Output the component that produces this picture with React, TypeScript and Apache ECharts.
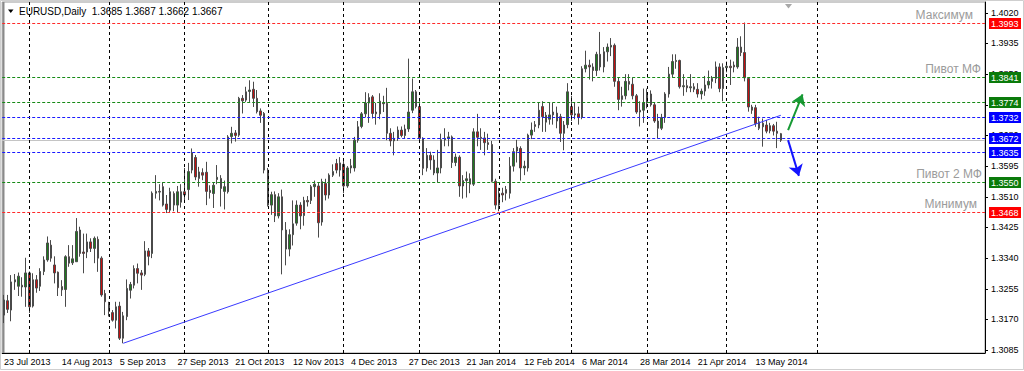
import React, { useEffect, useRef } from "react";
import * as echarts from "echarts";

// ---------- data ----------
const SYMBOL = "EURUSD";
const PERIOD = "Daily";
const START_DATE = "2013-07-23";
const HOLIDAYS = ["2013-12-25", "2014-01-01"];
const TOTAL_SLOTS = 272; // trading-day slots incl. right-hand chart shift
const LABEL_EVERY = 16;

const opens = [
  1.3182, 1.3222, 1.3196, 1.3274, 1.3262, 1.3265, 1.326, 1.3299, 1.3207, 1.328,
  1.3262, 1.3303, 1.3335, 1.3376, 1.3321, 1.3301, 1.3261, 1.3253, 1.3344, 1.3327,
  1.333, 1.3418, 1.3357, 1.3357, 1.3385, 1.3367, 1.3392, 1.334, 1.3242, 1.3215,
  1.3189, 1.3168, 1.3207, 1.3118, 1.3178, 1.3251, 1.3265, 1.3311, 1.3299, 1.3295,
  1.336, 1.3353, 1.352, 1.3525, 1.3538, 1.349, 1.3473, 1.3519, 1.3487, 1.3495,
  1.3524, 1.353, 1.3584, 1.3619, 1.3561, 1.3577, 1.3578, 1.3528, 1.3519, 1.3558,
  1.3561, 1.3525, 1.3524, 1.3677, 1.3687, 1.3681, 1.3783, 1.3778, 1.3802, 1.3808,
  1.3783, 1.3748, 1.3741, 1.3584, 1.3487, 1.3516, 1.3457, 1.351, 1.3418, 1.3365,
  1.3405, 1.3437, 1.3487, 1.3458, 1.35, 1.35, 1.3538, 1.354, 1.344, 1.3547,
  1.3515, 1.357, 1.3602, 1.3584, 1.36, 1.354, 1.359, 1.359, 1.3667, 1.3705,
  1.374, 1.377, 1.3787, 1.3745, 1.374, 1.377, 1.3769, 1.3686, 1.3665, 1.3672,
  1.3695, 1.368, 1.3698, 1.375, 1.3801, 1.376, 1.3672, 1.359, 1.3625, 1.3612,
  1.3576, 1.359, 1.3668, 1.3672, 1.3676, 1.3605, 1.362, 1.354, 1.3555, 1.356,
  1.3545, 1.369, 1.3675, 1.3673, 1.366, 1.3655, 1.3553, 1.3487, 1.352, 1.353,
  1.352, 1.3595, 1.3648, 1.3644, 1.359, 1.359, 1.3681, 1.371, 1.3709, 1.376,
  1.3717, 1.3725, 1.3737, 1.3742, 1.3732, 1.3686, 1.371, 1.376, 1.3737, 1.374,
  1.373, 1.3865, 1.3875, 1.387, 1.386, 1.3905, 1.387, 1.3912, 1.3925, 1.393,
  1.383, 1.378, 1.379, 1.383, 1.3822, 1.379, 1.3745, 1.375, 1.377, 1.3795,
  1.3765, 1.372, 1.37, 1.373, 1.3795, 1.385, 1.3885, 1.3888, 1.3815, 1.3818,
  1.3812, 1.3815, 1.3808, 1.3795, 1.3803, 1.382, 1.383, 1.3838, 1.387, 1.381,
  1.3868, 1.3872, 1.3875, 1.387, 1.3925, 1.391, 1.3838, 1.3759, 1.3757, 1.37,
  1.3714, 1.3709, 1.3693, 1.3707, 1.3692, 1.3685,
];
const highs = [
  1.3238, 1.3238, 1.3293, 1.3296, 1.33, 1.3287, 1.3341, 1.3303, 1.3298, 1.3293,
  1.3312, 1.3345, 1.34, 1.339, 1.3345, 1.3303, 1.3279, 1.3348, 1.3376, 1.3376,
  1.3451, 1.3427, 1.3408, 1.3408, 1.3395, 1.34, 1.34, 1.3345, 1.3252, 1.3219,
  1.3196, 1.3219, 1.3219, 1.3191, 1.3281, 1.3274, 1.332, 1.3325, 1.3307, 1.3387,
  1.3368, 1.3525, 1.357, 1.3545, 1.355, 1.3515, 1.3535, 1.3525, 1.354, 1.3545,
  1.359, 1.3604, 1.3644, 1.3626, 1.3593, 1.3589, 1.3607, 1.3542, 1.355, 1.3598,
  1.357, 1.3555, 1.3681, 1.3704, 1.3695, 1.3787, 1.3792, 1.3815, 1.3833, 1.3829,
  1.3806, 1.3755, 1.3745, 1.359, 1.3524, 1.3525, 1.352, 1.353, 1.344, 1.342,
  1.35, 1.35, 1.3495, 1.351, 1.3512, 1.3543, 1.3555, 1.3548, 1.356, 1.356,
  1.3575, 1.36, 1.3615, 1.362, 1.3615, 1.3595, 1.3615, 1.3676, 1.372, 1.3745,
  1.38, 1.3797, 1.3792, 1.377, 1.3797, 1.379, 1.3812, 1.37, 1.369, 1.3705,
  1.3705, 1.371, 1.3893, 1.3838, 1.3806, 1.3775, 1.3675, 1.3645, 1.3635, 1.3625,
  1.364, 1.3685, 1.37, 1.369, 1.368, 1.363, 1.3625, 1.357, 1.358, 1.3575,
  1.37, 1.374, 1.37, 1.369, 1.3685, 1.3665, 1.356, 1.3535, 1.3535, 1.354,
  1.362, 1.3645, 1.3668, 1.365, 1.361, 1.3685, 1.3716, 1.372, 1.3772, 1.3775,
  1.3745, 1.377, 1.377, 1.376, 1.374, 1.372, 1.3825, 1.379, 1.377, 1.376,
  1.3872, 1.3915, 1.389, 1.388, 1.3912, 1.3967, 1.3925, 1.3935, 1.395, 1.3935,
  1.384, 1.3815, 1.385, 1.385, 1.384, 1.3795, 1.3775, 1.381, 1.381, 1.3805,
  1.377, 1.374, 1.374, 1.38, 1.387, 1.3905, 1.3905, 1.389, 1.385, 1.3835,
  1.385, 1.3825, 1.3825, 1.381, 1.3845, 1.386, 1.3845, 1.3885, 1.388, 1.388,
  1.3885, 1.389, 1.3885, 1.395, 1.3955, 1.3993, 1.3842, 1.3765, 1.3765, 1.3732,
  1.3727, 1.3723, 1.3715, 1.3712, 1.3718, 1.3687,
];
const lows = [
  1.316, 1.3188, 1.3165, 1.3252, 1.3235, 1.3233, 1.3205, 1.3188, 1.3203, 1.3244,
  1.3249, 1.3293, 1.333, 1.333, 1.327, 1.3235, 1.3235, 1.3205, 1.3316, 1.3321,
  1.333, 1.3344, 1.3298, 1.334, 1.3357, 1.3326, 1.3302, 1.3233, 1.3182, 1.3178,
  1.3164, 1.3145, 1.3113, 1.3104, 1.3168, 1.3228, 1.3256, 1.327, 1.3252, 1.329,
  1.332, 1.334, 1.3505, 1.35, 1.3483, 1.3465, 1.3465, 1.347, 1.3466, 1.348,
  1.35, 1.3501, 1.3575, 1.3556, 1.3538, 1.3556, 1.3487, 1.3505, 1.3479, 1.3545,
  1.3483, 1.3475, 1.3519, 1.3658, 1.3663, 1.3676, 1.3741, 1.3773, 1.3773, 1.3759,
  1.3741, 1.3715, 1.3575, 1.3483, 1.346, 1.344, 1.345, 1.3295, 1.332, 1.3345,
  1.3375, 1.343, 1.342, 1.343, 1.3483, 1.349, 1.351, 1.3397, 1.343, 1.35,
  1.3505, 1.3565, 1.3575, 1.3566, 1.352, 1.3535, 1.3575, 1.358, 1.366, 1.37,
  1.373, 1.3715, 1.3727, 1.371, 1.3725, 1.3745, 1.3667, 1.365, 1.3625, 1.3665,
  1.3675, 1.3672, 1.369, 1.3742, 1.3755, 1.3665, 1.357, 1.358, 1.3585, 1.357,
  1.355, 1.3575, 1.365, 1.365, 1.359, 1.3595, 1.351, 1.3505, 1.3508, 1.352,
  1.354, 1.365, 1.364, 1.3625, 1.364, 1.355, 1.3475, 1.347, 1.3495, 1.35,
  1.3505, 1.358, 1.3605, 1.3555, 1.357, 1.358, 1.367, 1.369, 1.37, 1.369,
  1.369, 1.371, 1.371, 1.37, 1.3662, 1.3639, 1.37, 1.372, 1.3725, 1.371,
  1.3725, 1.3855, 1.3835, 1.383, 1.3845, 1.386, 1.3855, 1.3885, 1.39, 1.3815,
  1.375, 1.376, 1.378, 1.3805, 1.378, 1.374, 1.3705, 1.3715, 1.3755, 1.376,
  1.3715, 1.3672, 1.3695, 1.3715, 1.3785, 1.384, 1.3865, 1.381, 1.379, 1.38,
  1.38, 1.38, 1.3785, 1.378, 1.379, 1.381, 1.381, 1.3825, 1.38, 1.3775,
  1.3855, 1.382, 1.3855, 1.3865, 1.39, 1.383, 1.3746, 1.374, 1.3704, 1.3695,
  1.3649, 1.3686, 1.3686, 1.368, 1.3645, 1.3662,
];
const closes = [
  1.3224, 1.3198, 1.3274, 1.328, 1.329, 1.326, 1.3299, 1.3205, 1.328, 1.3257,
  1.3303, 1.3335, 1.3382, 1.334, 1.3299, 1.3258, 1.3252, 1.3344, 1.3326, 1.3338,
  1.3414, 1.3353, 1.3353, 1.3385, 1.3367, 1.3395, 1.334, 1.3238, 1.3219, 1.3192,
  1.3168, 1.3205, 1.3118, 1.318, 1.3256, 1.3267, 1.3311, 1.3298, 1.3293, 1.336,
  1.3345, 1.352, 1.3525, 1.3523, 1.3487, 1.3475, 1.3524, 1.3487, 1.3524, 1.3524,
  1.3515, 1.358, 1.3632, 1.3565, 1.3579, 1.357, 1.3525, 1.3522, 1.3542, 1.3564,
  1.3533, 1.3538, 1.3676, 1.3686, 1.368, 1.3783, 1.3776, 1.3801, 1.3806, 1.3783,
  1.3746, 1.3736, 1.3584, 1.3487, 1.3516, 1.3457, 1.351, 1.3418, 1.3365, 1.3405,
  1.3435, 1.3487, 1.3457, 1.35, 1.3496, 1.3538, 1.3545, 1.3438, 1.3552, 1.3515,
  1.357, 1.358, 1.3584, 1.3604, 1.354, 1.359, 1.3596, 1.3667, 1.3704, 1.374,
  1.377, 1.3785, 1.3741, 1.374, 1.3775, 1.3768, 1.3686, 1.3665, 1.3672, 1.3695,
  1.368, 1.3698, 1.3745, 1.3801, 1.376, 1.3672, 1.3589, 1.3625, 1.3612, 1.3576,
  1.359, 1.3668, 1.3672, 1.3676, 1.3605, 1.362, 1.354, 1.3555, 1.356, 1.3545,
  1.369, 1.3675, 1.3672, 1.366, 1.3655, 1.3553, 1.3487, 1.352, 1.3515, 1.352,
  1.3595, 1.3635, 1.3637, 1.359, 1.3595, 1.3681, 1.3695, 1.3705, 1.375, 1.3732,
  1.3736, 1.3737, 1.3745, 1.372, 1.3686, 1.3709, 1.3801, 1.3737, 1.374, 1.373,
  1.3865, 1.3875, 1.387, 1.386, 1.3905, 1.387, 1.3912, 1.3925, 1.393, 1.383,
  1.378, 1.379, 1.383, 1.3822, 1.379, 1.3745, 1.375, 1.377, 1.3795, 1.3765,
  1.372, 1.37, 1.373, 1.3795, 1.385, 1.3885, 1.3888, 1.3815, 1.3818, 1.3812,
  1.3815, 1.3808, 1.3795, 1.3803, 1.382, 1.383, 1.3838, 1.387, 1.381, 1.3868,
  1.3872, 1.3868, 1.387, 1.3925, 1.391, 1.384, 1.3759, 1.375, 1.3713, 1.3718,
  1.3704, 1.3692, 1.3707, 1.3692, 1.3686, 1.3667,
];

const yTicks = [1.3085, 1.317, 1.3255, 1.334, 1.3425, 1.351, 1.3595, 1.368, 1.3765, 1.385, 1.3935, 1.402];

const levelValues = [1.3993, 1.3841, 1.3774, 1.3732, 1.3672, 1.3635, 1.355, 1.3468];
const levelKinds = ["red", "green", "green", "blue", "blue", "blue", "green", "red"];
const levelNames = ["Максимум", "Пивот МФ", "", "", "", "", "Пивот 2 МФ", "Минимум"];
const levelNameOffsets = [12, 4, 0, 0, 0, 0, 3, 8];

const monthGridIdx = [7, 29, 50, 73, 94, 115, 137, 157, 178, 200, 225];

const trendStart = { idx: 33, price: 1.3104 };
const trendEnd = { idx: 215, price: 1.3736 };
const arrowUpFrom = { idx: 217, price: 1.3695 };
const arrowUpTo = { idx: 221, price: 1.3794 };
const arrowDownFrom = { idx: 217, price: 1.3667 };
const arrowDownTo = { idx: 220, price: 1.3568 };

// ---------- helpers ----------
const MONTHS = ["Jan", "Feb", "Mar", "Apr", "May", "Jun", "Jul", "Aug", "Sep", "Oct", "Nov", "Dec"];
function buildDates(): string[] {
  const out: string[] = [];
  const d = new Date(START_DATE + "T00:00:00Z");
  while (out.length < TOTAL_SLOTS) {
    const dow = d.getUTCDay();
    const iso = d.toISOString().slice(0, 10);
    if (dow !== 0 && dow !== 6 && HOLIDAYS.indexOf(iso) < 0) {
      out.push(`${d.getUTCDate()} ${MONTHS[d.getUTCMonth()]} ${d.getUTCFullYear()}`);
    }
    d.setUTCDate(d.getUTCDate() + 1);
  }
  return out;
}

const W = 1024;
const GRID_LEFT = 2.2;
const GRID_RIGHT = 39;
const FONT = "'Liberation Sans', Arial, sans-serif";
const LINE_COLORS: Record<string, string> = { red: "#ff2a2a", green: "#168a16", blue: "#1a1aff" };
const BOX_COLORS: Record<string, string> = { red: "#ff0000", green: "#0a7a0a", blue: "#0000ff" };
const fmt = (v: number) => v.toFixed(4);

function baseGraphics(header: string) {
  return [
    { id: "frame", type: "rect", z: -1, shape: { x: 0.5, y: 0.5, width: 1023, height: 369 }, style: { fill: "none", stroke: "#cfcfcf" } },
    { id: "lborder", type: "line", z: 0, shape: { x1: 3.5, y1: 2, x2: 3.5, y2: 353 }, style: { stroke: "#8a8a8a", lineWidth: 2 } },
    { id: "htri", type: "polygon", shape: { points: [[8, 9.5], [13.5, 9.5], [10.75, 13]] }, style: { fill: "#000" } },
    { id: "htxt", type: "text", x: 19, y: 11, style: { text: header, fill: "#000", font: `10px ${FONT}`, textVerticalAlign: "middle" } },
    { id: "shift", type: "polygon", shape: { points: [[785, 4], [792, 4], [788.5, 8.5]] }, style: { fill: "#a8a8a8" } },
  ];
}

function buildOption() {
  const dates = buildDates();
  const lastIdx = closes.length - 1;
  const candles = opens.map((o, i) => [o, closes[i], lows[i], highs[i]]);
  const showLabel = (i: number) => i % LABEL_EVERY === 0 && i <= lastIdx;
  const header = `${SYMBOL},${PERIOD}  ${fmt(opens[lastIdx])} ${fmt(highs[lastIdx])} ${fmt(lows[lastIdx])} ${fmt(closes[lastIdx])}`;

  return {
    header,
    option: {
      animation: false,
      backgroundColor: "#ffffff",
      grid: { left: GRID_LEFT, right: GRID_RIGHT, top: 2, bottom: 18, show: true, borderColor: "#9a9a9a", borderWidth: 1 },
      xAxis: {
        type: "category",
        data: dates,
        boundaryGap: true,
        axisLine: { lineStyle: { color: "#000" } },
        axisTick: { alignWithLabel: true, length: 4, interval: showLabel, lineStyle: { color: "#000" } },
        axisLabel: { interval: showLabel, align: "left", margin: 4, fontSize: 9, color: "#000", fontFamily: FONT },
        splitLine: { show: false },
      },
      yAxis: {
        type: "value",
        position: "right",
        min: 1.3077,
        max: 1.405,
        axisLine: { show: true, lineStyle: { color: "#000" } },
        axisTick: { show: true, length: 3, customValues: yTicks, lineStyle: { color: "#000" } },
        axisLabel: { customValues: yTicks, formatter: (v: number) => fmt(v), fontSize: 9, color: "#000", margin: 6, fontFamily: FONT },
        splitLine: { show: false },
      },
      graphic: baseGraphics(header),
      series: [
        {
          type: "line",
          data: [],
          z: 1,
          silent: true,
          markLine: {
            silent: true,
            symbol: "none",
            label: { show: false },
            data: monthGridIdx.map((i) => ({ xAxis: dates[i], lineStyle: { color: "#000", type: [3, 3], width: 1 } })),
          },
        },
        {
          type: "candlestick",
          data: candles,
          barWidth: 2,
          z: 2,
          itemStyle: { color: "#1e7b1e", color0: "#c41010", borderColor: "#4a4a4a", borderColor0: "#4a4a4a", borderWidth: 1 },
        },
        {
          type: "line",
          data: [],
          z: 4,
          silent: true,
          markLine: {
            silent: true,
            symbol: "none",
            label: { show: false },
            data: [
              [
                { coord: [dates[trendStart.idx], trendStart.price], lineStyle: { color: "#3a3aff", width: 1, type: "solid" } },
                { coord: [dates[trendEnd.idx], trendEnd.price] },
              ],
              [
                { coord: [dates[arrowUpFrom.idx], arrowUpFrom.price], symbol: "none", lineStyle: { color: "#179a35", width: 2, type: "solid" } },
                { coord: [dates[arrowUpTo.idx], arrowUpTo.price], symbol: "arrow", symbolSize: 11 },
              ],
              [
                { coord: [dates[arrowDownFrom.idx], arrowDownFrom.price], symbol: "none", lineStyle: { color: "#1414ff", width: 2, type: "solid" } },
                { coord: [dates[arrowDownTo.idx], arrowDownTo.price], symbol: "arrow", symbolSize: 11 },
              ],
            ],
          },
        },
      ],
    },
  };
}

export default function App() {
  const ref = useRef<HTMLDivElement>(null);
  useEffect(() => {
    document.body.style.margin = "0";
    const chart = echarts.init(ref.current as HTMLDivElement, null, { renderer: "svg" });
    const { header, option } = buildOption();
    chart.setOption(option as any);

    // price-level objects positioned through the y axis scale
    const x0 = GRID_LEFT;
    const x1 = W - GRID_RIGHT;
    const toY = (v: number) => Math.round(chart.convertToPixel({ yAxisIndex: 0 }, v) as number) + 0.5;
    const extra: any[] = [];
    const bidY = toY(closes[closes.length - 1]);
    extra.push({ id: "bid", type: "line", z: 1, shape: { x1: x0, y1: bidY, x2: x1, y2: bidY }, style: { stroke: "#c4c4c4", lineWidth: 1 } });
    levelValues.forEach((v, k) => {
      const y = toY(v);
      const kind = levelKinds[k];
      extra.push({ id: "lv" + k, type: "line", z: 50, shape: { x1: x0, y1: y, x2: x1, y2: y }, style: { stroke: LINE_COLORS[kind], lineWidth: 1, lineDash: [3, 2] } });
      extra.push({ id: "bx" + k, type: "rect", z: 60, shape: { x: x1 + 4, y: y - 5.5, width: 32, height: 11 }, style: { fill: BOX_COLORS[kind] } });
      extra.push({ id: "bt" + k, type: "text", z: 61, x: x1 + 6, y: y + 0.5, style: { text: fmt(v), fill: "#fff", font: `9px ${FONT}`, textVerticalAlign: "middle" } });
      if (levelNames[k]) {
        extra.push({
          id: "nm" + k,
          type: "text",
          z: 55,
          x: x1 - levelNameOffsets[k],
          y: y - 8.5,
          style: { text: levelNames[k], fill: "#9b9b9b", font: `12px ${FONT}`, textAlign: "right", textVerticalAlign: "middle" },
        });
      }
    });
    chart.setOption({ graphic: [...baseGraphics(header), ...extra] } as any);
    return () => chart.dispose();
  }, []);
  return <div ref={ref} style={{ width: 1024, height: 371 }} />;
}
